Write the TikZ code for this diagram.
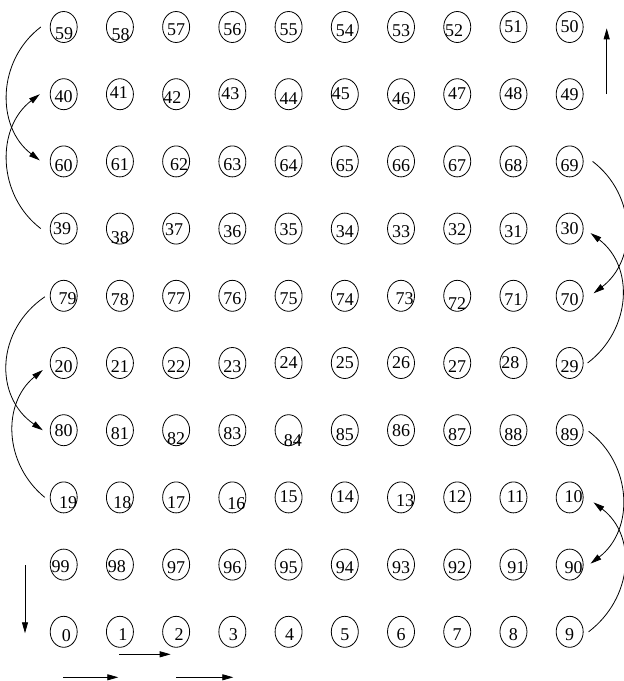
\documentclass[tikz,border=0pt]{standalone}
\usepackage{fontspec}
\setmainfont{Liberation Serif}
\usetikzlibrary{shapes.geometric,arrows.meta}
\begin{document}
\begin{tikzpicture}[x=1pt,y=-1pt,
  cell/.style={draw, ellipse, minimum width=27pt, minimum height=31pt, inner sep=0pt, line width=0.8pt},
  num/.style={inner sep=0pt, font=\fontsize{18}{18}\selectfont},
  arr/.style={line width=0.8pt, -{Triangle[length=11pt,width=6pt]}}]
\useasboundingbox (0,0) rectangle (624,681);
\foreach \n/\c/\r/\dx/\dy in {
 59/0/0/0.5/6.3, 58/1/0/0.7/8, 57/2/0/0/3, 56/3/0/0/3, 55/4/0/0/3, 54/5/0/0/3.7, 53/6/0/0/3.7, 52/7/0/-3/3.7, 51/8/0/0/0, 50/9/0/0/0,
 40/0/1/0/2.7, 41/1/1/-1/-2, 42/2/1/-3.7/3, 43/3/1/-2/-1, 44/4/1/0/4.7, 45/5/1/-4/-1, 46/6/1/0/4.3, 47/7/1/0/-1, 48/8/1/0/-0.7, 49/9/1/0/0,
 60/0/2/0/3.7, 61/1/2/0/3.7, 62/2/2/3/3.7, 63/3/2/0/3.7, 64/4/2/0/4, 65/5/2/0/4, 66/6/2/0/4, 67/7/2/0/4, 68/8/2/0/4, 69/9/2/0/4,
 39/0/3/-1.7/0, 38/1/3/0/8.7, 37/2/3/-2/1, 36/3/3/0/3, 35/4/3/0/1, 34/5/3/0/3, 33/6/3/0/3, 32/7/3/0/1, 31/8/3/0/3, 30/9/3/0/0,
 79/0/4/4/3.3, 78/1/4/0/3.3, 77/2/4/0/3.3, 76/3/4/0/3.3, 75/4/4/0/3.3, 74/5/4/0/3.3, 73/6/4/3.7/3, 72/7/4/0/8, 71/8/4/0/3.3, 70/9/4/0/3.3,
 20/0/5/0/3.3, 21/1/5/0/3.3, 22/2/5/0/3.3, 23/3/5/0/3.7, 24/4/5/0/0, 25/5/5/0/0, 26/6/5/0/0, 27/7/5/0/3.7, 28/8/5/-3/0, 29/9/5/0/4,
 80/0/6/0/0, 81/1/6/0/3, 82/2/6/0/8.7, 83/3/6/0/3, 84/4/6/4.3/10, 85/5/6/0/4.3, 86/6/6/0/0, 87/7/6/0/4.3, 88/8/6/0/4, 89/9/6/0/4,
 19/0/7/4.3/5.3, 18/1/7/2.5/5, 17/2/7/0/5, 16/3/7/4/6, 15/4/7/0/-1, 14/5/7/0/-1, 13/6/7/4/3.5, 12/7/7/0/-1, 11/8/7/2/-1, 10/9/7/4/-1,
 99/0/8/-3/1.7, 98/1/8/-3/1.7, 97/2/8/0/3, 96/3/8/0/3, 95/4/8/0/3, 94/5/8/0/3, 93/6/8/0/3, 92/7/8/0/3, 91/8/8/3/3, 90/9/8/4/3,
 0/0/9/2.7/3.7, 1/1/9/3/3, 2/2/9/3/3, 3/3/9/1/3, 4/4/9/1/3, 5/5/9/0/3, 6/6/9/0/3, 7/7/9/0/3, 8/8/9/0/3, 9/9/9/0/3}
{
  \node[cell] (n\n) at ({63.7+56.22*\c},{27+67.2*\r}) {};
  \node[num] (t\n) at ([shift={(\dx,\dy)}]n\n.center) {\n};
}
% left curves
\draw[arr] ([shift={(-9,0)}]n59.west) .. controls +(-44,33.5) and +(-44,-33.5) .. ([shift={(-10,-1)}]n60.west);
\draw[arr] ([shift={(-9,0)}]n39.west) .. controls +(-44,-33.5) and +(-44,33.5) .. ([shift={(-10,0)}]n40.west);
\draw[arr] ([shift={(-5,1)}]n79.west) .. controls +(-49,33.5) and +(-49,-33.5) .. ([shift={(-7,0)}]n80.west);
\draw[arr] ([shift={(-5,0)}]n19.west) .. controls +(-41,-33.5) and +(-41,33.5) .. ([shift={(-7,7)}]n20.west);
% right curves
\draw[arr] ([shift={(9,0)}]n69.east) .. controls +(44,33.5) and +(44,-33.5) .. ([shift={(10,-2.5)}]n70.east);
\draw[arr] ([shift={(4,0)}]n29.east) .. controls +(44,-33.5) and +(44,33.5) .. ([shift={(7,4.5)}]n30.east);
\draw[arr] ([shift={(5,1)}]n89.east) .. controls +(44,33.5) and +(44,-33.5) .. ([shift={(7,-1)}]n90.east);
\draw[arr] ([shift={(5,0)}]n9.east) .. controls +(44,-33.5) and +(44,33.5) .. ([shift={(10,5)}]n10.east);
% straight arrows
\coordinate (u1) at (606.7,94);
\coordinate (u2) at (606.7,28.3);
\coordinate (d1) at (25,565);
\coordinate (d2) at (25,633.3);
\coordinate (h1a) at (63.3,677.3);
\coordinate (h1b) at (118.3,677.3);
\coordinate (h2a) at (119.3,654.3);
\coordinate (h2b) at (170.7,654.3);
\coordinate (h3a) at (176,677.3);
\coordinate (h3b) at (233.3,677.3);
\draw[arr] (u1) -- (u2);
\draw[arr] (d1) -- (d2);
\draw[arr] (h1a) -- (h1b);
\draw[arr] (h2a) -- (h2b);
\draw[arr] (h3a) -- (h3b);
\end{tikzpicture}
\end{document}
